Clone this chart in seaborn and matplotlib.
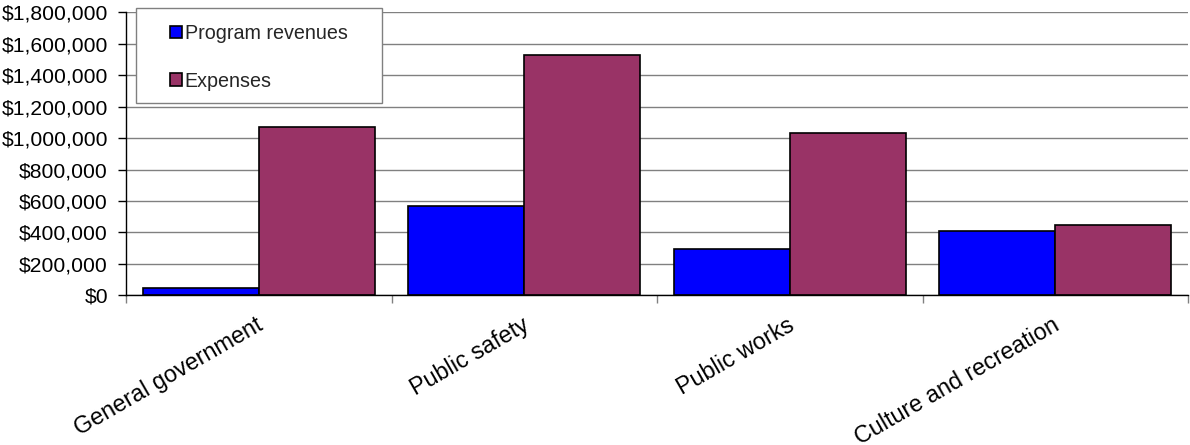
import matplotlib
matplotlib.use("Agg")
import matplotlib.pyplot as plt
import matplotlib.ticker as mticker
import matplotlib.transforms as mtrans
import matplotlib.patches as mpatches
import seaborn as sns
import pandas as pd

categories = ["General government", "Public safety", "Public works", "Culture and recreation"]
program_revenues = [46000, 566000, 293000, 409000]
expenses = [1071000, 1531000, 1032000, 445000]
series_names = ["Program revenues", "Expenses"]
colors = ["#0000FF", "#993366"]

df = pd.DataFrame({
    "category": categories * 2,
    "value": program_revenues + expenses,
    "series": [series_names[0]] * 4 + [series_names[1]] * 4,
})

sns.set_style("white")
plt.rcParams["font.family"] = ["Liberation Sans", "DejaVu Sans"]

W, H = 1190, 445
fig = plt.figure(figsize=(W / 100, H / 100), dpi=100)
ax = fig.add_axes([126 / W, 1 - 295.3 / H, (1188 - 126) / W, (295.3 - 12.3) / H])

sns.barplot(data=df, x="category", y="value", hue="series", palette=colors,
            edgecolor="black", linewidth=1.2, width=0.875, ax=ax, legend=True,
            saturation=1)

ax.set_xlim(-0.5, 3.5)
ax.set_ylim(0, 1800000)
ax.yaxis.set_major_locator(mticker.MultipleLocator(200000))
ax.yaxis.set_major_formatter(mticker.FuncFormatter(lambda v, p: "${:,.0f}".format(v)))
ax.set_xlabel("")
ax.set_ylabel("")

ax.yaxis.grid(True, color="#808080", linewidth=1)
ax.set_axisbelow(True)

for s in ["top", "right"]:
    ax.spines[s].set_visible(False)
ax.spines["left"].set_color("black")
ax.spines["bottom"].set_color("black")
ax.spines["left"].set_linewidth(1)
ax.spines["bottom"].set_linewidth(1)

ax.tick_params(axis="y", which="major", left=True, length=6, width=1, color="black",
               labelsize=15.2, pad=7, labelcolor="black")
ax.set_xticks(range(len(categories)))
ax.set_xticklabels(categories, rotation=30, ha="right", va="top", rotation_mode="anchor",
                   fontsize=16.8, color="black")
ax.tick_params(axis="x", which="major", length=0, pad=13)
ax.set_xticks([-0.5 + i for i in range(len(categories) + 1)], minor=True)
ax.tick_params(axis="x", which="minor", bottom=True, length=6, width=1, color="#808080")
offset = mtrans.ScaledTranslation(-3 / 100, 0, fig.dpi_scale_trans)
for lab in ax.get_xticklabels():
    lab.set_transform(lab.get_transform() + offset)

# legend frame
frame = mpatches.Rectangle((136 / W, 1 - 103 / H), (382 - 136) / W, (103 - 8) / H,
                           transform=fig.transFigure, facecolor="white",
                           edgecolor="#808080", linewidth=1, clip_on=False, zorder=4)
ax.add_patch(frame)

handles, labels = ax.get_legend_handles_labels()
leg = ax.legend(handles, labels, loc="upper left",
                bbox_to_anchor=(170 / W, 1 - 24 / H),
                bbox_transform=fig.transFigure,
                fontsize=14.2, frameon=False,
                handlelength=0.62, handleheight=0.62, handletextpad=0.12,
                labelspacing=1.45, borderpad=0, borderaxespad=0)
leg.set_zorder(5)
for h in leg.legend_handles:
    h.set_edgecolor("black")
    h.set_linewidth(1.2)

fig.savefig("out.png", dpi=100)
